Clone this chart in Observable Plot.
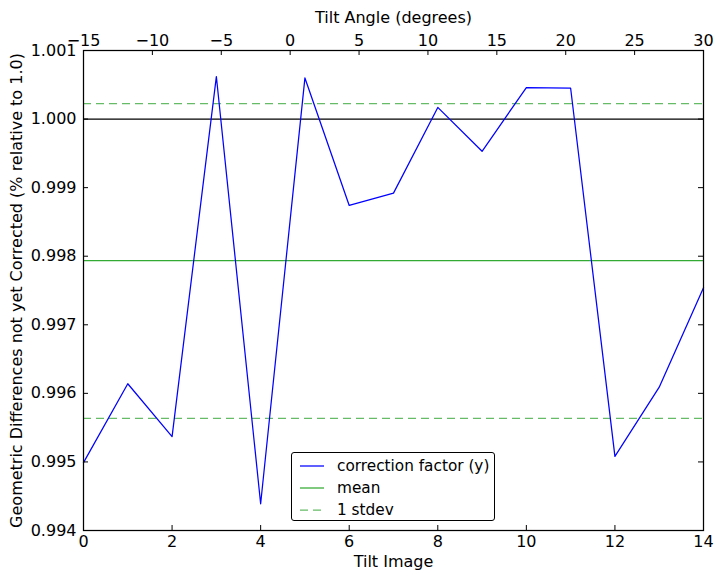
<!DOCTYPE html>
<html>
<head>
<meta charset="utf-8">
<script src="https://cdn.jsdelivr.net/npm/d3@7"></script>
<script src="https://cdn.jsdelivr.net/npm/@observablehq/plot@0.6"></script>
<style>
  html, body { margin: 0; padding: 0; background: white; }
  #wrap { position: relative; width: 722px; height: 579px; font-family: "DejaVu Sans", sans-serif; }
  #legend {
    position: absolute; left: 291px; top: 452px; width: 202px; height: 67px;
    border: 1.25px solid black; border-radius: 3px; background: white;
    font-size: 15.3px; color: black; box-sizing: content-box;
  }
  .row { position: absolute; left: 0; height: 22px; display: flex; align-items: center; white-space: nowrap; }
  .row svg { margin-left: 8px; margin-right: 13px; }
</style>
</head>
<body>
<div id="wrap"><div id="legend"></div></div>
<script>
// ---- data ----
const tiltImage = [0, 1, 2, 3, 4, 5, 6, 7, 8, 9, 10, 11, 12, 13, 14];
const correctionFactor = [0.99499, 0.99614, 0.99537, 1.00062, 0.99439, 1.00060, 0.99874, 0.99892,
                          1.00017, 0.99953, 1.00046, 1.00045, 0.99508, 0.99609, 0.99754];
const referenceLevel = 1.0;
const meanValue = 0.997935;
const stdevBounds = [1.000225, 0.995635];
const xTicks = [0, 2, 4, 6, 8, 10, 12, 14];
const yTicks = [0.994, 0.995, 0.996, 0.997, 0.998, 0.999, 1.000, 1.001];
const angleTicks = [-15, -10, -5, 0, 5, 10, 15, 20, 25, 30];
const angleDomain = [-15, 30];
const imageDomain = [0, 14];
const yDomain = [0.994, 1.001];
const legendItems = [
  {label: "correction factor (y)", color: "#0000ff", dash: null},
  {label: "mean", color: "#33aa33", dash: null},
  {label: "1 stdev", color: "#66bb66", dash: "8,5"}
];

const data = tiltImage.map((x, i) => ({image: x, factor: correctionFactor[i]}));
const angleToImage = d3.scaleLinear().domain(angleDomain).range(imageDomain);
const topTickPositions = angleTicks.map(a => angleToImage(a));
const fmtAngle = d3.format("d");

const W = 722, H = 579, mL = 83, mR = 19, mT = 50, mB = 49;
const plotW = W - mL - mR, plotH = H - mT - mB;
const tk = 5;

const chart = Plot.plot({
  width: W, height: H,
  marginLeft: mL, marginRight: mR, marginTop: mT, marginBottom: mB,
  style: {fontFamily: "DejaVu Sans", fontSize: "16px", background: "white", color: "black"},
  x: {domain: imageDomain},
  y: {domain: yDomain},
  marks: [
    Plot.ruleY([referenceLevel], {stroke: "black", strokeWidth: 1.25}),
    Plot.ruleY([meanValue], {stroke: "#33aa33", strokeWidth: 1.25}),
    Plot.ruleY(stdevBounds, {stroke: "#66bb66", strokeWidth: 1.25, strokeDasharray: "8,5"}),
    Plot.line(data, {x: "image", y: "factor", stroke: "#0000ff", strokeWidth: 1.25}),
    // inward ticks
    Plot.tickX(xTicks, {x: d => d, insetTop: plotH - tk, stroke: "black", strokeWidth: 1}),
    Plot.tickX(topTickPositions, {x: d => d, insetBottom: plotH - tk, stroke: "black", strokeWidth: 1}),
    Plot.tickY(yTicks, {y: d => d, insetRight: plotW - tk, stroke: "black", strokeWidth: 1}),
    Plot.tickY(yTicks, {y: d => d, insetLeft: plotW - tk, stroke: "black", strokeWidth: 1}),
    Plot.frame({stroke: "black", strokeWidth: 1.25}),
    Plot.axisX(xTicks, {anchor: "bottom", tickSize: 0, tickPadding: 5, tickFormat: d => String(d),
      label: "Tilt Image", labelAnchor: "center", labelArrow: false, labelOffset: 36}),
    Plot.axisX(topTickPositions, {anchor: "top", tickSize: 0, tickPadding: 5,
      tickFormat: d => fmtAngle(Math.round(angleToImage.invert(d))),
      label: "Tilt Angle (degrees)", labelAnchor: "center", labelArrow: false, labelOffset: 39}),
    Plot.axisY(yTicks, {anchor: "left", tickSize: 0, tickPadding: 7, tickFormat: d3.format(".3f"),
      label: "Geometric Differences not yet Corrected (% relative to 1.0)", labelAnchor: "center",
      labelArrow: false, labelOffset: 73})
  ]
});
const wrap = document.getElementById("wrap");
wrap.insertBefore(chart, wrap.firstChild);

const legend = document.getElementById("legend");
legendItems.forEach((it, i) => {
  const row = document.createElement("div");
  row.className = "row";
  row.style.top = (2 + i * 22) + "px";
  const svg = document.createElementNS("http://www.w3.org/2000/svg", "svg");
  svg.setAttribute("width", 24); svg.setAttribute("height", 4);
  const ln = document.createElementNS("http://www.w3.org/2000/svg", "line");
  ln.setAttribute("x1", 0); ln.setAttribute("x2", 24); ln.setAttribute("y1", 2); ln.setAttribute("y2", 2);
  ln.setAttribute("stroke", it.color); ln.setAttribute("stroke-width", 1.25);
  if (it.dash) ln.setAttribute("stroke-dasharray", it.dash);
  svg.appendChild(ln);
  const span = document.createElement("span");
  span.textContent = it.label;
  row.appendChild(svg); row.appendChild(span);
  legend.appendChild(row);
});
</script>
</body>
</html>
